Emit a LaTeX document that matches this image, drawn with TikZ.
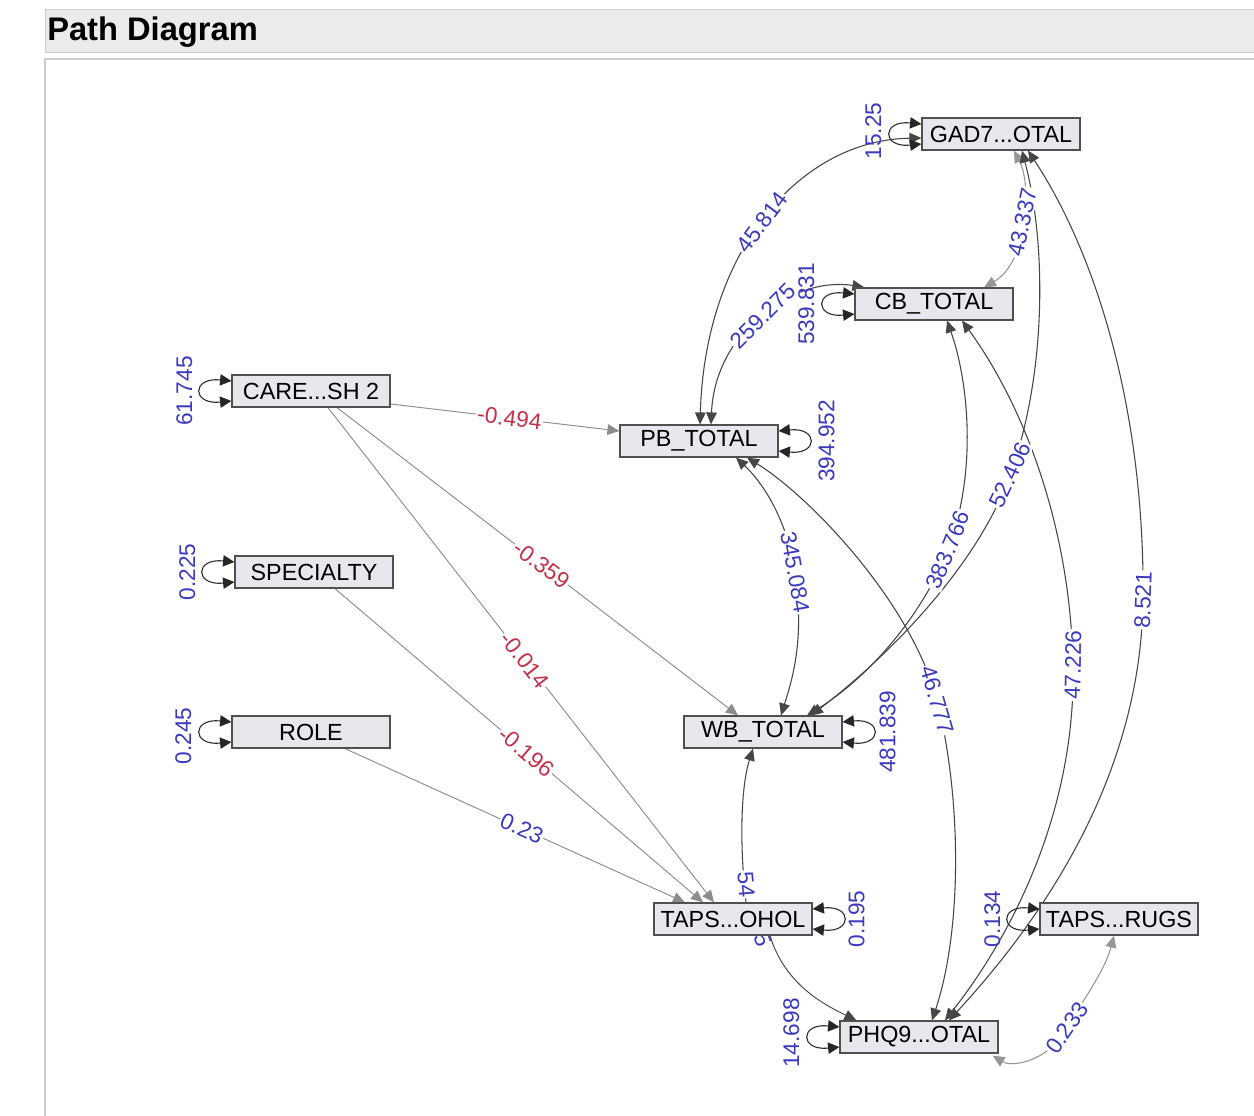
\documentclass[tikz,border=0pt]{standalone}
\usepackage{fontspec}
\setmainfont{Liberation Sans}
\usetikzlibrary{arrows.meta,calc}
\definecolor{boxfill}{RGB}{231,231,237}
\definecolor{boxline}{RGB}{80,80,80}
\definecolor{lblblue}{RGB}{58,58,192}
\definecolor{lblred}{RGB}{196,48,72}
\definecolor{reggray}{RGB}{140,140,140}
\definecolor{covgray}{RGB}{70,70,70}
\definecolor{lightcov}{RGB}{150,150,150}
\definecolor{hdrfill}{RGB}{235,235,235}
\definecolor{hdrline}{RGB}{205,205,205}
\pgfdeclarelayer{bg}\pgfdeclarelayer{edges}\pgfdeclarelayer{labels}
\pgfsetlayers{bg,edges,labels,main}
\begin{document}
\begin{tikzpicture}[x=0.75pt,y=-0.75pt,
 var/.style={draw=boxline,fill=boxfill,line width=0.9pt,minimum width=118.5pt,minimum height=24pt,inner sep=0pt,font=\fontsize{17.5}{20}\selectfont},
 reg/.style={draw=reggray,line width=0.7pt,-{Triangle[length=9pt,width=8pt]}},
 cov/.style={draw=covgray,line width=0.8pt,{Triangle[length=9pt,width=8pt]}-{Triangle[length=9pt,width=8pt]}},
 lcov/.style={cov,draw=lightcov},
 selfloop/.style={draw=black!85,line width=0.8pt,{Triangle[length=8.5pt,width=8.5pt]}-{Triangle[length=8.5pt,width=8.5pt]}},
 lbl/.style={fill=white,inner sep=1pt,text=lblblue,font=\fontsize{17}{20}\selectfont},
 nlbl/.style={lbl,text=lblred},
 vlbl/.style={text=lblblue,inner sep=0pt,font=\fontsize{17}{20}\selectfont,rotate=90}]
\useasboundingbox (0,0) rectangle (1254,1115);
\begin{pgfonlayer}{bg}
\fill[white] (0,0) rectangle (1254,1115);
\draw[hdrline,fill=hdrfill] (45,9) rectangle (1262,52);
\node[anchor=west,font=\bfseries\fontsize{24.5}{26}\selectfont,inner sep=0pt] (title) at (47,32) {Path Diagram};
\draw[hdrline,fill=white,line width=1pt] (45,59) rectangle (1262,1125);
\end{pgfonlayer}

% nodes
\node[var] (gad) at (1001,134) {GAD7...OTAL};
\node[var] (cb) at (934,304) {CB\_TOTAL};
\node[var] (care) at (311,391) {CARE...SH 2};
\node[var] (pb) at (699,441) {PB\_TOTAL};
\node[var] (spec) at (314,572) {SPECIALTY};
\node[var] (role) at (311,732) {ROLE};
\node[var] (wb) at (763,732) {WB\_TOTAL};
\node[var] (tapsa) at (733,919) {TAPS...OHOL};
\node[var] (tapsd) at (1119,919) {TAPS...RUGS};
\node[var] (phq) at (919,1037) {PHQ9...OTAL};

% self loops
\foreach \n in {gad,cb,care,spec,role,tapsd,phq}
  \draw[selfloop] ($(\n.west)+(0,-10)$) .. controls +(-40,-4) and +(-40,4) .. ($(\n.west)+(0,10)$);
\foreach \n in {pb,wb,tapsa}
  \draw[selfloop] ($(\n.east)+(0,-10)$) .. controls +(40,-4) and +(40,4) .. ($(\n.east)+(0,10)$);

% variance labels
\node[vlbl] at ($(gad.west)+(-48,-3)$) {15.25};
\node[vlbl] at ($(cb.west)+(-48,0)$) {539.831};
\node[vlbl] at ($(care.west)+(-47,0)$) {61.745};
\node[vlbl] at ($(spec.west)+(-47,0)$) {0.225};
\node[vlbl] at ($(role.west)+(-48,4)$) {0.245};
\node[vlbl] at ($(tapsd.west)+(-47,0)$) {0.134};
\node[vlbl] at ($(phq.west)+(-48,-4)$) {14.698};
\node[vlbl] at ($(pb.east)+(48,0)$) {394.952};
\node[vlbl] at ($(wb.east)+(45,0)$) {481.839};
\node[vlbl] at ($(tapsa.east)+(44,0)$) {0.195};

\begin{pgfonlayer}{edges}
% regressions
\draw[reg] ($(care.east)+(0,13)$) -- coordinate[pos=0.52] (l1) ($(pb.west)+(0,-10)$);
\draw[reg] ($(care.south)+(26,0)$) -- coordinate[pos=0.51] (l2) ($(wb.north)+(-25,0)$);
\draw[reg] ($(care.south)+(17,0)$) -- coordinate[pos=0.51] (l3) ($(tapsa.north)+(-19,0)$);
\draw[reg] ($(spec.south)+(21,0)$) -- coordinate[pos=0.52] (l4) ($(tapsa.north)+(-30,0)$);
\draw[reg] ($(role.south)+(34,0)$) -- coordinate[pos=0.52] (l5) ($(tapsa.north)+(-48,0)$);
\draw[reg,draw=covgray] ($(tapsa.south)+(37,0)$) .. controls (785,985) and (825,1005) .. ($(phq.north west)+(17,0)$);
% covariances
\draw[cov] ($(gad.west)+(0,4)$) .. controls (800,140) and (705,250) .. coordinate[pos=0.52] (l6) ($(pb.north)+(1,0)$);
\draw[cov] ($(cb.north west)+(10,0)$) .. controls (795,276) and (715,330) .. coordinate[pos=0.5] (l7) ($(pb.north)+(12,0)$);
\draw[lcov] ($(gad.south)+(13,0)$) .. controls (1032,185) and (1028,262) .. coordinate[pos=0.5] (l8) ($(cb.north)+(50,0)$);
\draw[cov] ($(gad.south)+(21,0)$) .. controls (1048,250) and (1045,380) .. (1010,475) coordinate (l9) .. controls (978,565) and (890,655) .. ($(wb.north)+(48,0)$);
\draw[cov] ($(cb.south)+(13,0)$) .. controls (968,380) and (978,470) .. (948,550) coordinate (l10) .. controls (920,620) and (865,680) .. ($(wb.north)+(44,0)$);
\draw[cov] ($(pb.south)+(37,0)$) .. controls (760,480) and (786,515) .. (795,572) coordinate (l11) .. controls (805,640) and (792,680) .. ($(wb.north)+(18,0)$);
\draw[cov] ($(pb.south)+(48,0)$) .. controls (808,495) and (910,600) .. (937,700) coordinate (l12) .. controls (962,800) and (962,930) .. ($(phq.north)+(13,0)$);
\draw[cov] ($(cb.south)+(28,0)$) .. controls (1020,400) and (1070,520) .. (1073,665) coordinate (l13) .. controls (1076,800) and (1020,925) .. ($(phq.north)+(26,0)$);
\draw[cov] ($(gad.south)+(27,0)$) .. controls (1100,260) and (1145,420) .. (1143,600) coordinate (l14) .. controls (1141,760) and (1060,900) .. ($(phq.north)+(30,0)$);
\draw[draw=covgray,line width=0.8pt,{Triangle[length=9pt,width=8pt]}-] ($(wb.south)+(-10,0)$) .. controls (740,790) and (740,850) .. ($(tapsa.north)+(13,0)$);
\draw[lcov] ($(phq.south east)+(-6,2)$) .. controls (1013,1068) and (1050,1060) .. (1067,1028) coordinate (l16) .. controls (1085,997) and (1105,970) .. ($(tapsd.south)+(-5,0)$);
\end{pgfonlayer}

\begin{pgfonlayer}{labels}
\node[nlbl,rotate=-7] at (l1) {-0.494};
\node[nlbl,rotate=-37] at (l2) {-0.359};
\node[nlbl,rotate=-52] at (l3) {-0.014};
\node[nlbl,rotate=-40] at (l4) {-0.196};
\node[lbl,rotate=-24] at (l5) {0.23};
\node[lbl,rotate=53] at (l6) {45.814};
\node[lbl,rotate=45] at (l7) {259.275};
\node[lbl,rotate=78] at (l8) {43.337};
\node[lbl,rotate=65] at (l9) {52.406};
\node[lbl,rotate=68] at (l10) {383.766};
\node[lbl,rotate=-80] at (l11) {345.084};
\node[lbl,rotate=-74] at (l12) {46.777};
\node[lbl,rotate=89] at (l13) {47.226};
\node[lbl,rotate=88] at (l14) {8.521};
\node[lbl,rotate=55] at (l16) {0.233};
\node[lbl,rotate=-85] (l15) at ($(tapsa.north)+(13,-18)$) {54};
\node[lbl,fill=none,rotate=-70] (l17) at ($(tapsa.south)+(30,4)$) {5};
\end{pgfonlayer}
\end{tikzpicture}
\end{document}
